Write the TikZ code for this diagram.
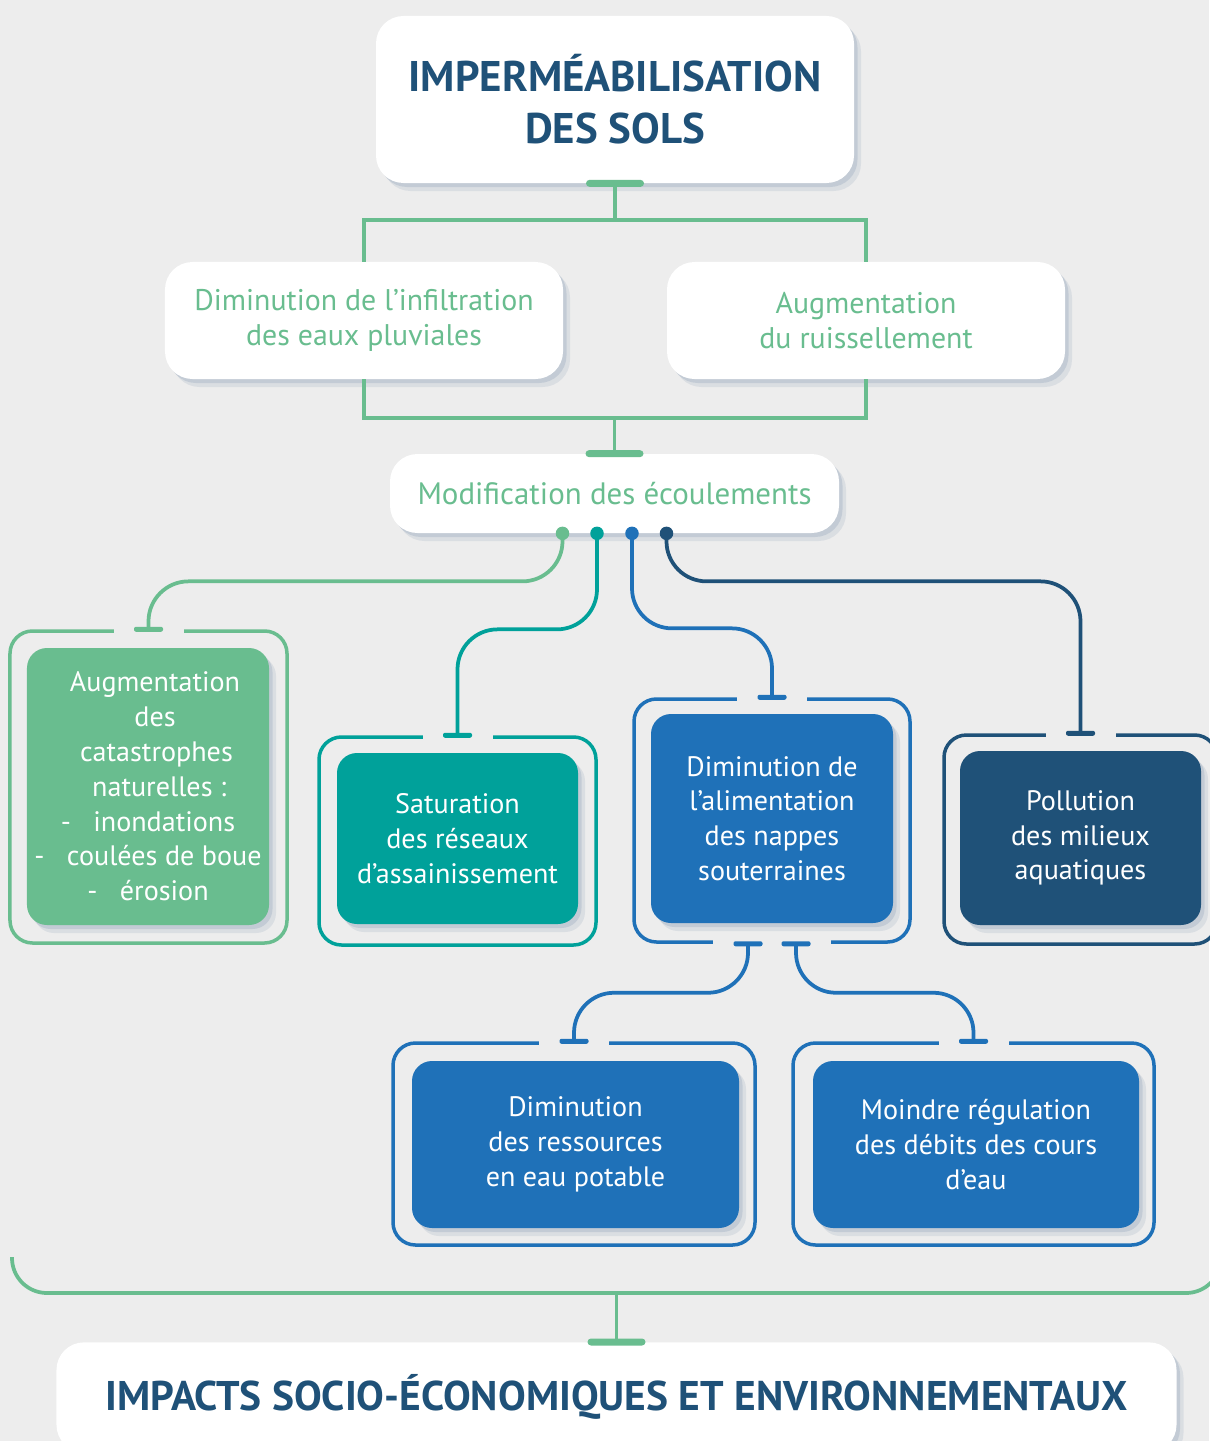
\documentclass[tikz,border=0pt]{standalone}
\usepackage{fontspec}
\setmainfont{PT Sans}
\usetikzlibrary{shadows}
\definecolor{bgc}{HTML}{EDEDED}
\definecolor{cgreen}{HTML}{69BD8F}
\definecolor{cteal}{HTML}{00A19A}
\definecolor{cblue}{HTML}{1F71B8}
\definecolor{cnavy}{HTML}{1F5178}
\definecolor{shadowc}{HTML}{9AAABF}
\begin{document}
\begin{tikzpicture}[x=0.2cm, y=0.2cm,
    softshadow/.style={drop shadow={shadow xshift=0.14cm, shadow yshift=-0.16cm, fill=shadowc, opacity=0.22},
                       drop shadow={shadow xshift=0.07cm, shadow yshift=-0.08cm, fill=shadowc, opacity=0.35}},
    whitebox/.style={fill=white, rounded corners=0.55cm, align=center, softshadow},
    greentxt/.style={text=cgreen, font=\fontsize{17}{19.8}\selectfont},
    colbox/.style={fill=#1, rounded corners=0.4cm, align=center, text=white, font=\fontsize{16}{19.8}\selectfont, softshadow},
    outerframe/.style={draw=#1, line width=0.07cm, fill=bgc, rounded corners=0.45cm},
    gapfill/.style={fill=bgc, minimum height=0.22cm},
    tabbar/.style={fill=#1, rounded corners=0.04cm, minimum width=0.58cm, minimum height=0.1cm},
    bigtab/.style={fill=cgreen, rounded corners=0.07cm, minimum width=1.16cm, minimum height=0.14cm},
    dotnode/.style={circle, fill=#1, minimum size=0.27cm},
    linkline/.style={line width=0.075cm, rounded corners=0.8cm}]
				\tikzstyle{every node}+=[inner sep=0pt]
				\fill[bgc] (0,0) rectangle (120.9,-144.1);
				\useasboundingbox (0,0) rectangle (120.9,-144.1);
				\node[outerframe=cgreen, minimum width=5.54cm, minimum height=6.24cm] (fA) at (14.85,-78.7) {};
				\node[outerframe=cteal, minimum width=5.54cm, minimum height=4.16cm] (fB) at (45.75,-84.1) {};
				\node[outerframe=cblue, minimum width=5.52cm, minimum height=4.86cm] (fC) at (77.2,-82.05) {};
				\node[outerframe=cnavy, minimum width=5.46cm, minimum height=4.18cm] (fD) at (108.05,-83.95) {};
				\node[outerframe=cblue, minimum width=7.24cm, minimum height=4.04cm] (fE) at (57.4,-114.4) {};
				\node[outerframe=cblue, minimum width=7.22cm, minimum height=4.04cm] (fF) at (97.35,-114.4) {};
				\node[colbox=cgreen, minimum width=4.84cm, minimum height=5.54cm] (iA) at (14.8,-78.65) {\hspace{0.5em}Augmentation\\\hspace{0.5em}des\\\hspace{0.6em}catastrophes\\\hspace{0.8em}naturelles :\\-\hspace{0.8em}inondations\\-\hspace{0.8em}coulées de boue\\-\hspace{0.8em}érosion};
				\node[colbox=cteal, minimum width=4.82cm, minimum height=3.42cm] (iB) at (45.75,-83.85) {Saturation\\des réseaux\\d’assainissement};
				\node[colbox=cblue, minimum width=4.84cm, minimum height=4.18cm] (iC) at (77.2,-81.85) {Diminution de\\l’alimentation\\des nappes\\souterraines};
				\node[colbox=cnavy, minimum width=4.82cm, minimum height=3.48cm] (iD) at (108.05,-83.8) {Pollution\\des milieux\\aquatiques};
				\node[colbox=cblue, minimum width=6.54cm, minimum height=3.34cm] (iE) at (57.55,-114.45) {Diminution\\des ressources\\en eau potable};
				\node[colbox=cblue, minimum width=6.52cm, minimum height=3.34cm] (iF) at (97.6,-114.45) {Moindre régulation\\des débits des cours\\d’eau};
				\node[gapfill, minimum width=1.4cm] (gA) at (fA.north) {};
				\node[gapfill, minimum width=1.4cm] (gB) at (fB.north) {};
				\node[gapfill, minimum width=1.4cm] (gC) at (fC.north) {};
				\node[gapfill, minimum width=2.36cm] (gC2) at (fC.south) {};
				\node[gapfill, minimum width=1.4cm] (gD) at (fD.north) {};
				\node[gapfill, minimum width=1.4cm] (gE) at (fE.north) {};
				\node[gapfill, minimum width=1.4cm] (gF) at (fF.north) {};
				\node[tabbar=cgreen] (tA) at (fA.north) {};
				\node[tabbar=cteal] (tB) at (fB.north) {};
				\node[tabbar=cblue] (tC) at (fC.north) {};
				\node[tabbar=cblue] (tC1) at ([xshift=-0.48cm]fC.south) {};
				\node[tabbar=cblue] (tC2) at ([xshift=0.48cm]fC.south) {};
				\node[tabbar=cnavy] (tD) at (fD.north) {};
				\node[tabbar=cblue] (tE) at (fE.north) {};
				\node[tabbar=cblue] (tF) at (fF.north) {};
				\node[whitebox, minimum width=9.56cm, minimum height=3.34cm, text=cnavy, font=\fontsize{24.4}{29.5}\selectfont\bfseries] (top) at (61.5,-9.95) {IMPERMÉABILISATION\\DES SOLS};
				\node[whitebox, greentxt, minimum width=7.96cm, minimum height=2.34cm] (inf) at (36.4,-32.05) {Diminution de l’infiltration\\des eaux pluviales};
				\node[whitebox, greentxt, minimum width=7.96cm, minimum height=2.34cm] (ruis) at (86.6,-32.05) {Augmentation\\du ruissellement};
				\node[whitebox, greentxt, font=\fontsize{17.6}{20}\selectfont, minimum width=8.98cm, minimum height=1.58cm] (mod) at (61.45,-49.35) {Modification des écoulements};
				\node[whitebox, anchor=north, minimum width=22.4cm, minimum height=2.2cm, text=cnavy, font=\fontsize{23.6}{28}\selectfont\bfseries] (imp) at (61.65,-134.2) {IMPACTS SOCIO-ÉCONOMIQUES ET ENVIRONNEMENTAUX};
				\node[bigtab] (t0) at (top.south) {};
				\node[bigtab] (t1) at (mod.north) {};
				\node[bigtab] (t2) at (imp.north) {};
				\node[dotnode=cgreen] (d1) at ([xshift=-1.04cm]mod.south) {};
				\node[dotnode=cteal] (d2) at ([xshift=-0.35cm]mod.south) {};
				\node[dotnode=cblue] (d3) at ([xshift=0.35cm]mod.south) {};
				\node[dotnode=cnavy] (d4) at ([xshift=1.04cm]mod.south) {};
				\draw[linkline, cgreen] (t0.center) -- ++(0,-3.7) coordinate (j0);
				\draw[linkline, cgreen, rounded corners=0pt] (inf.north) |- (j0) -| (ruis.north);
				\draw[linkline, cgreen] (t1.center) -- ++(0,3.6) coordinate (j1);
				\draw[linkline, cgreen, rounded corners=0pt] (inf.south) |- (j1) -| (ruis.south);
				\draw[linkline, cgreen] (d1.center) -- ++(0,-4.8) -| (tA.center);
				\draw[linkline, cteal] (d2.center) -- ++(0,-9.6) -| (tB.center);
				\draw[linkline, cblue] (d3.center) -- ++(0,-9.5) -| (tC.center);
				\draw[linkline, cnavy] (d4.center) -- ++(0,-4.8) -| (tD.center);
				\draw[linkline, cblue] (tC1.center) -- ++(0,-4.9) -| (tE.center);
				\draw[linkline, cblue] (tC2.center) -- ++(0,-4.9) -| (tF.center);
				\coordinate (bl) at (1.2,-125.7);
				\coordinate (br) at (122.1,-125.7);
				\draw[linkline, cgreen] (t2.center) -- ++(0,4.9) coordinate (j2);
				\draw[linkline, cgreen, rounded corners=0.7cm] (bl) |- (j2) -| (br);
			\end{tikzpicture}
\end{document}
